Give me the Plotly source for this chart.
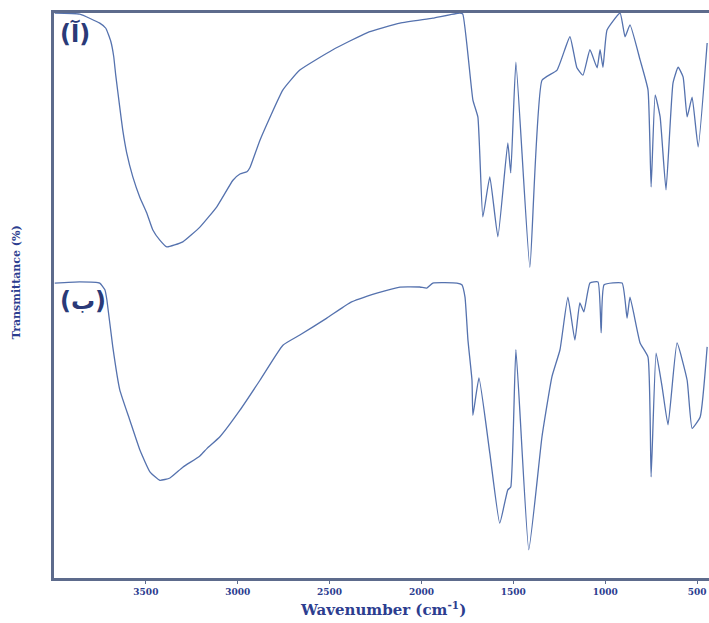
import plotly.graph_objects as go

# Wavenumber (cm^-1) and transmittance (arbitrary %, offset stacked)
wn_a = [3996, 3860, 3751, 3718, 3691, 3675, 3664, 3642, 3626, 3604, 3571, 3533, 3495, 3462,
        3424, 3386, 3299, 3206, 3114, 3026, 2988, 2950, 2934, 2879, 2754, 2662, 2482, 2297,
        2117, 1938, 1791, 1775, 1720, 1693, 1666, 1628, 1584, 1530, 1514, 1486, 1410, 1344,
        1262, 1192, 1154, 1121, 1083, 1044, 1028, 1012, 990, 919, 892, 865, 810, 767, 750,
        728, 701, 669, 631, 603, 576, 554, 527, 494, 445]
t_a = [100.0, 99.8, 98.2, 97.3, 95.0, 92.3, 89.0, 83.3, 79.3, 75.2, 71.0, 67.4, 64.6, 61.6,
       59.8, 58.6, 59.5, 62.1, 65.7, 70.4, 71.5, 71.9, 72.6, 77.5, 86.4, 89.9, 93.5, 96.5,
       98.2, 99.1, 100.0, 99.8, 84.6, 81.6, 63.9, 71.0, 60.4, 77.0, 71.7, 91.3, 55.0, 88.1,
       89.9, 95.8, 90.3, 89.0, 93.5, 90.3, 93.5, 90.4, 97.0, 100.0, 95.8, 97.9, 91.7, 86.4,
       69.2, 85.5, 81.6, 68.7, 87.6, 90.4, 88.7, 81.6, 85.1, 76.3, 94.7]

wn_b = [3996, 3860, 3751, 3723, 3712, 3680, 3642, 3588, 3533, 3478, 3424, 3369, 3299, 3206,
        3168, 3097, 2988, 2879, 2754, 2662, 2515, 2390, 2243, 2117, 2009, 1971, 1938, 1807,
        1780, 1763, 1747, 1725, 1720, 1687, 1628, 1574, 1530, 1514, 1486, 1416, 1344, 1290,
        1246, 1203, 1165, 1138, 1116, 1083, 1039, 1022, 1006, 908, 881, 865, 810, 767, 750,
        723, 690, 658, 609, 554, 527, 483, 445]
t_b = [52.2, 52.4, 52.2, 51.0, 49.2, 40.9, 33.3, 28.0, 22.7, 18.8, 17.3, 17.7, 19.6, 21.6,
       22.9, 25.0, 29.7, 35.0, 41.2, 43.0, 46.0, 48.7, 50.4, 51.5, 51.5, 51.3, 52.2, 52.2,
       51.9, 49.7, 42.1, 35.0, 28.8, 35.4, 22.1, 9.7, 15.6, 16.1, 40.4, 5.0, 25.0, 35.6,
       40.4, 49.7, 42.1, 48.7, 47.1, 52.2, 52.4, 43.4, 51.9, 52.2, 46.0, 49.7, 41.6, 39.1, 17.9,
       39.8, 33.8, 27.1, 41.6, 35.0, 26.5, 28.5, 40.9]

tick_vals = [3500, 3000, 2500, 2000, 1500, 1000, 500]
tick_text = ["3500", "3000", "2500", "2000", "1500", "1000", "500"]
labels = ["(آ)", "(ب)"]

line_col = "#5572ae"
frame_col = "#5d6b8c"
text_col = "#2c3d8f"

fig = go.Figure()
for xs, ys in ((wn_a, t_a), (wn_b, t_b)):
    fig.add_trace(go.Scatter(x=xs, y=ys, mode="lines",
                             line=dict(color=line_col, width=1.3, shape="spline", smoothing=0.4),
                             showlegend=False))

fig.update_layout(
    width=709, height=623,
    margin=dict(l=54, r=0, t=13, b=45),
    paper_bgcolor="white", plot_bgcolor="white",
    xaxis=dict(range=[4000, 435], showgrid=False, zeroline=False,
               showline=True, linecolor=frame_col, linewidth=2.5, mirror=True,
               ticks="outside", ticklen=3, tickcolor=frame_col, tickwidth=1,
               tickvals=tick_vals, ticktext=["<b>" + t + "</b>" for t in tick_text],
               tickfont=dict(family="DejaVu Serif", size=9, color=text_col)),
    yaxis=dict(range=[0, 100], showgrid=False, zeroline=False,
               showline=True, linecolor=frame_col, linewidth=2.5,
               showticklabels=False, ticks=""),
    annotations=[
        dict(text="<b>Wavenumber (cm<sup>-1</sup>)</b>", xref="paper", yref="paper",
             x=0.502, y=-0.054, xanchor="center", yanchor="middle", showarrow=False,
             font=dict(family="DejaVu Serif", size=15, color=text_col)),
        dict(text="<b>Transmittance (%)</b>", xref="paper", yref="paper",
             x=-0.056, y=0.524, xanchor="center", yanchor="middle", textangle=-90,
             showarrow=False,
             font=dict(family="DejaVu Serif", size=11, color=text_col)),
        dict(text="<b>" + labels[0] + "</b>", xref="paper", yref="paper",
             x=0.006, y=0.963, xanchor="left", yanchor="middle", showarrow=False,
             font=dict(family="DejaVu Sans", size=24, color="#2a3a78")),
        dict(text="<b>" + labels[1] + "</b>", xref="paper", yref="paper",
             x=0.006, y=0.49, xanchor="left", yanchor="middle", showarrow=False,
             font=dict(family="DejaVu Sans", size=24, color="#2a3a78")),
    ],
)

fig.write_html("out.html")
